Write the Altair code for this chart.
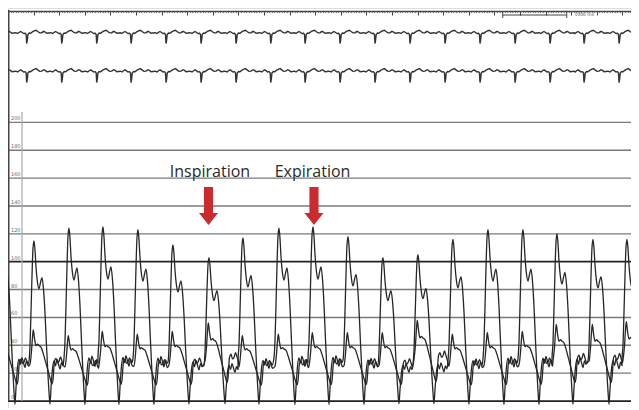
import altair as alt
import pandas as pd

PLOT_W, PLOT_H = 623, 400
T_END = PLOT_W / 64.0  # seconds shown across the plot (64 px per second)

# ---- beat timing (s) and per-beat pressures ----
beat_peak_s = [-0.141, 0.406, 0.953, 1.484, 2.031, 2.578, 3.141, 3.672, 4.234, 4.766,
               5.313, 5.859, 6.406, 6.953, 7.500, 8.047, 8.578, 9.141, 9.672, 10.219]
lv_peak = [120, 115, 124, 125, 123, 112, 103, 117, 124, 125,
           118, 103, 105, 116, 123, 123, 120, 116, 116, 115]
rv_peak = [50, 51, 47, 50, 48, 50, 56, 47, 48, 49,
           49, 49, 58, 48, 49, 50, 55, 55, 57, 55]

# LV beat shape: offset from peak (ms) and fraction of peak
lv_shape_ms = [-78, -62, -47, -31, -16, 0, 16, 31, 55, 78, 102, 125, 148, 172, 195,
               219, 234, 250, 266, 289, 313, 336, 359, 383, 406, 430, 453]
lv_shape_frac = [0.25, 0.35, 0.55, 0.78, 0.95, 1.0, 0.94, 0.84, 0.74, 0.70, 0.74, 0.77,
                 0.70, 0.55, 0.35, 0.16, 0.06, -0.02, 0.08, 0.20, 0.25, 0.22, 0.26,
                 0.23, 0.20, 0.24, 0.22]
# RV beat shape: offset from LV peak (ms) and fraction of RV peak
rv_shape_ms = [-62, -39, -23, -11, 8, 31, 55, 78, 109, 141, 172, 203, 234, 258, 281,
               297, 320, 344, 367, 391, 414, 438, 461]
rv_shape_frac = [0.52, 0.70, 0.90, 1.0, 0.88, 0.78, 0.80, 0.78, 0.76, 0.68, 0.58, 0.48,
                 0.38, 0.30, 0.24, 0.30, 0.56, 0.60, 0.54, 0.56, 0.62, 0.56, 0.50]

# ECG: QRS times (s) and beat shape (offset ms, mV)
qrs_s = [-0.252, 0.292, 0.839, 1.386, 1.922, 2.469, 3.016, 3.563, 4.105, 4.641,
         5.188, 5.734, 6.281, 6.828, 7.375, 7.922, 8.469, 9.000, 9.547, 10.094]
ecg_shape_ms = [-141, -117, -94, -70, -47, -23, -8, 0, 9, 19, 39, 62, 94, 125, 148,
                172, 203, 234, 266, 289, 313, 344, 375]
ecg_shape_mv = [0, 0.12, 0.2, 0.1, 0, 0.03, -0.1, -1.0, -0.7, -0.1, 0.05, 0.02, 0.18,
                0.28, 0.32, 0.2, 0.06, 0.08, 0.22, 0.15, 0.02, 0.05, 0.08]
ecg2_gain = 1.05

grid_light = [20, 40, 60, 80, 120, 140, 160, 180, 200]
grid_dark = [0, 100]
grid_labels = [0, 20, 40, 60, 80, 100, 120, 140, 160, 180, 200]

major_ticks = [round(0.4 * i, 2) for i in range(25)]
minor_ticks = [round(0.04 * i, 2) for i in range(247)]

annot_text = ["Inspiration", "Expiration"]
annot_text_t = [3.156, 4.758]
annot_text_y = 160.5
arrow_t = [3.133, 4.781]
arrow_y = 140

scale_bar_start, scale_bar_len = 7.73, 1.0

# ---- build tables ----
def beats(times, peaks, offs, fracs, name):
    rows = []
    for tb, pk in zip(times, peaks):
        for o, f in zip(offs, fracs):
            rows.append({"t": tb + o / 1000.0, "v": f * pk, "trace": name})
    return rows

press = pd.DataFrame(beats(beat_peak_s, lv_peak, lv_shape_ms, lv_shape_frac, "LV")
                     + beats(beat_peak_s, rv_peak, rv_shape_ms, rv_shape_frac, "RV"))
press = press.sort_values(["trace", "t"])
lv_df = press[press.trace == "LV"]
rv_df = press[press.trace == "RV"]

ecg1 = pd.DataFrame(beats(qrs_s, [1.0] * len(qrs_s), ecg_shape_ms, ecg_shape_mv, "I")).sort_values("t")
ecg2 = pd.DataFrame(beats(qrs_s, [ecg2_gain] * len(qrs_s), ecg_shape_ms, ecg_shape_mv, "II")).sort_values("t")

X = alt.Scale(domain=[0, T_END], nice=False, zero=False)
P = alt.Scale(domain=[-5, 282.1], nice=False, zero=False)
E1 = alt.Scale(domain=[-37.45, 2.55], nice=False, zero=False)
E2 = alt.Scale(domain=[-33.6, 6.4], nice=False, zero=False)

major_axis = alt.Axis(values=major_ticks, orient="bottom", offset=-397, labels=False,
                      tickSize=4, tickColor="#444", tickWidth=1, domain=True,
                      domainColor="#444", domainWidth=1.5, grid=False, title=None)
minor_axis = alt.Axis(values=minor_ticks, orient="bottom", offset=-397, labels=False,
                      tickSize=1.6, tickColor="#555", tickWidth=0.7, domain=False,
                      grid=False, title=None)

grid_l = alt.Chart(pd.DataFrame({"v": grid_light})).mark_rule(
    color="#7a7a7a", strokeWidth=1.4).encode(
    y=alt.Y("v:Q", scale=P, axis=None), x=alt.value(0), x2=alt.value(PLOT_W))
grid_d = alt.Chart(pd.DataFrame({"v": grid_dark})).mark_rule(
    color="#222", strokeWidth=1.8).encode(
    y=alt.Y("v:Q", scale=P, axis=None), x=alt.value(0), x2=alt.value(PLOT_W))
labels = alt.Chart(pd.DataFrame({"v": grid_labels, "s": [str(v) for v in grid_labels]})).mark_text(
    align="left", baseline="bottom", dy=-1, fontSize=5, color="#666", font="DejaVu Sans").encode(
    y=alt.Y("v:Q", scale=P, axis=None), x=alt.value(3), text="s:N")
vline = alt.Chart(pd.DataFrame({"v": [200]})).mark_rule(color="#aaa", strokeWidth=1.2).encode(
    x=alt.value(14), y=alt.value(104), y2=alt.value(393))
left_line = alt.Chart(pd.DataFrame({"v": [0]})).mark_rule(color="#444", strokeWidth=2).encode(
    x=alt.value(0.5), y=alt.value(2), y2=alt.value(393))

ecg1_l = alt.Chart(ecg1).mark_line(color="#333", strokeWidth=1.4, clip=True).encode(
    x=alt.X("t:Q", scale=X, axis=major_axis), y=alt.Y("v:Q", scale=E1, axis=None), order="t:Q")
ecg2_l = alt.Chart(ecg2).mark_line(color="#333", strokeWidth=1.4, clip=True).encode(
    x=alt.X("t:Q", scale=X, axis=minor_axis), y=alt.Y("v:Q", scale=E2, axis=None), order="t:Q")

lv_l = alt.Chart(lv_df).mark_line(color="#262626", strokeWidth=1.3, clip=True, interpolate="monotone").encode(
    x=alt.X("t:Q", scale=X, axis=None), y=alt.Y("v:Q", scale=P, axis=None), order="t:Q")
rv_l = alt.Chart(rv_df).mark_line(color="#262626", strokeWidth=1.3, clip=True, interpolate="monotone").encode(
    x=alt.X("t:Q", scale=X, axis=None), y=alt.Y("v:Q", scale=P, axis=None), order="t:Q")

ARROW = "M-0.24,-1 L0.24,-1 L0.24,0.37 L0.5,0.37 L0,1 L-0.5,0.37 L-0.24,0.37 Z"
arrows = alt.Chart(pd.DataFrame({"t": arrow_t, "v": [arrow_y] * 2})).mark_point(
    shape=ARROW, filled=True, size=38 * 38, color="#cc2a2e", opacity=1, strokeWidth=0).encode(
    x=alt.X("t:Q", scale=X, axis=None), y=alt.Y("v:Q", scale=P, axis=None))
texts = alt.Chart(pd.DataFrame({"t": annot_text_t, "v": [annot_text_y] * 2, "s": annot_text})).mark_text(
    fontSize=16, font="Open Sans", color="#2a2a2a", baseline="alphabetic", align="center").encode(
    x=alt.X("t:Q", scale=X, axis=None), y=alt.Y("v:Q", scale=P, axis=None), text="s:N")

bar_df = pd.DataFrame({"a": [scale_bar_start], "b": [scale_bar_start + scale_bar_len]})
bar = alt.Chart(bar_df).mark_rule(color="#444", strokeWidth=1).encode(
    x=alt.X("a:Q", scale=X, axis=None), x2="b:Q", y=alt.value(7))
caps = alt.Chart(pd.DataFrame({"a": [scale_bar_start, scale_bar_start + scale_bar_len]})).mark_rule(
    color="#444", strokeWidth=1).encode(x=alt.X("a:Q", scale=X, axis=None), y=alt.value(4), y2=alt.value(10))
bar_txt = alt.Chart(pd.DataFrame({"a": [scale_bar_start + scale_bar_len + 0.12], "s": ["1000 ms"]})).mark_text(
    fontSize=4.5, align="left", baseline="middle", color="#555", font="DejaVu Sans").encode(
    x=alt.X("a:Q", scale=X, axis=None), y=alt.value(7), text="s:N")

chart = alt.layer(
    grid_l, grid_d, vline, left_line, labels,
    ecg1_l, ecg2_l, lv_l, rv_l,
    arrows, texts, bar, caps, bar_txt,
).resolve_scale(y="independent").resolve_axis(x="independent").properties(
    width=PLOT_W, height=PLOT_H,
    autosize=alt.AutoSizeParams(type="none"),
    padding=0,
).configure_view(stroke=None).configure(background="white")

chart.save("out.html", embed_options={"renderer": "svg", "actions": False})
